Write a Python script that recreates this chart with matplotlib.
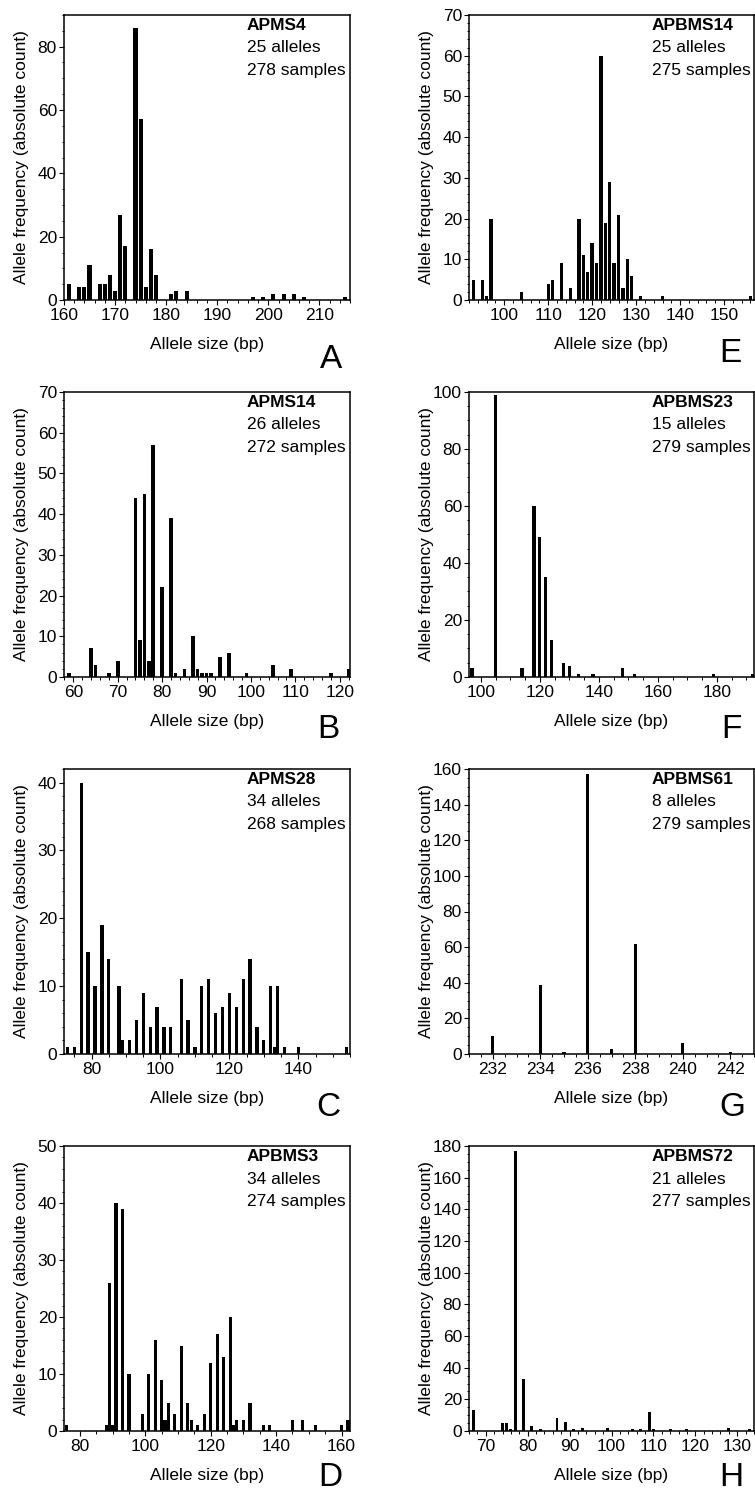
import matplotlib
matplotlib.use('Agg')
import matplotlib.pyplot as plt
from matplotlib.ticker import MultipleLocator

plt.rcParams['font.family'] = ['Liberation Sans', 'DejaVu Sans']

# ---------------- data ----------------
# A – APMS4
a_sizes = [161, 163, 164, 165, 167, 168, 169, 170, 171, 172, 174, 175, 176, 177, 178,
           181, 182, 184, 197, 199, 201, 203, 205, 207, 215]
a_counts = [5, 4, 4, 11, 5, 5, 8, 3, 27, 17, 86, 57, 4, 16, 8, 2, 3, 3, 1, 1, 2, 2, 2, 1, 1]

# B – APMS14
b_sizes = [59, 64, 65, 68, 70, 74, 75, 76, 77, 78, 80, 82, 83, 85, 87, 88, 89, 90, 91,
           93, 95, 99, 105, 109, 118, 122]
b_counts = [1, 7, 3, 1, 4, 44, 9, 45, 4, 57, 22, 39, 1, 2, 10, 2, 1, 1, 1, 5, 6, 1, 3, 2, 1, 2]

# C – APMS28
c_sizes = [73, 75, 77, 79, 81, 83, 85, 88, 89, 91, 93, 95, 97, 99, 101, 103, 106, 108,
           110, 112, 114, 116, 118, 120, 122, 124, 126, 128, 130, 132, 133, 134, 136, 140, 154]
c_counts = [1, 1, 40, 15, 10, 19, 14, 10, 2, 2, 5, 9, 4, 7, 4, 4, 11, 5, 1, 10, 11, 6, 7,
            9, 7, 11, 14, 4, 2, 10, 1, 10, 1, 1, 1]

# D – APBMS3
d_sizes = [76, 88, 89, 90, 91, 93, 95, 99, 101, 103, 105, 106, 107, 109, 111, 113, 114,
           116, 118, 120, 122, 124, 126, 127, 128, 130, 132, 136, 138, 145, 148, 152, 160, 162]
d_counts = [1, 1, 26, 1, 40, 39, 10, 3, 10, 16, 9, 2, 5, 3, 15, 5, 2, 1, 3, 12, 17, 13,
            20, 1, 2, 2, 5, 1, 1, 2, 2, 1, 1, 2]

# E – APBMS14
e_sizes = [93, 95, 96, 97, 104, 110, 111, 113, 115, 117, 118, 119, 120, 121, 122, 123,
           124, 125, 126, 127, 128, 129, 131, 136, 156]
e_counts = [5, 5, 1, 20, 2, 4, 5, 9, 3, 20, 11, 7, 14, 9, 60, 19, 29, 9, 21, 3, 10, 6, 1, 1, 1]

# F – APBMS23
f_sizes = [97, 105, 114, 118, 120, 122, 124, 128, 130, 133, 138, 148, 152, 179, 192]
f_counts = [3, 99, 3, 60, 49, 35, 13, 5, 4, 1, 1, 3, 1, 1, 1]

# G – APBMS61
g_sizes = [232, 234, 235, 236, 237, 238, 240, 242]
g_counts = [10, 39, 1, 157, 3, 62, 6, 1]

# H – APBMS72
h_sizes = [67, 74, 75, 76, 77, 79, 81, 83, 87, 89, 91, 93, 99, 105, 107, 109, 110, 114,
           118, 128, 133]
h_counts = [13, 5, 5, 1, 177, 33, 3, 1, 8, 6, 1, 2, 2, 1, 1, 12, 1, 1, 1, 2, 1]

letters = ['A', 'B', 'C', 'D', 'E', 'F', 'G', 'H']
markers = ['APMS4', 'APMS14', 'APMS28', 'APBMS3', 'APBMS14', 'APBMS23', 'APBMS61', 'APBMS72']
n_alleles = [25, 26, 34, 34, 25, 15, 8, 21]
n_samples = [278, 272, 268, 274, 275, 279, 279, 277]
sizes = [a_sizes, b_sizes, c_sizes, d_sizes, e_sizes, f_sizes, g_sizes, h_sizes]
counts = [a_counts, b_counts, c_counts, d_counts, e_counts, f_counts, g_counts, h_counts]

# ---------------- layout / style ----------------
W, H = 755, 1493
fig = plt.figure(figsize=(W / 100, H / 100), dpi=100)

col_left = [64, 469]
col_width = [286, 285]
row_top = [15, 392, 769, 1146]
ax_h = 285

xlims = [(160, 216), (57.9, 122.3), (72, 155), (75.1, 162.6),
         (92.0, 156.8), (96.0, 192.6), (231, 243), (66, 134)]
ylims = [(0, 90), (0, 70), (0, 42), (0, 50), (0, 70), (0, 100), (0, 160), (0, 180)]
x_major = [10, 10, 20, 20, 10, 20, 2, 10]
x_minor = [2, 2, 5, 5, 2, 5, 0.5, 2]
y_major = [20, 10, 10, 10, 10, 20, 20, 20]
y_minor = [5, 2, 2, 2, 2, 5, 5, 5]
bar_w = [0.8, 0.8, 0.95, 0.95, 0.75, 1.1, 0.14, 0.7]
letter_dy = [-68, -61, -62, -55, -62, -61, -62, -55]
letter_dx = [-8, -10, -10, -8, -12, -12, -9, -11]

px = 0.72  # points per pixel at 100 dpi
fs = 12.5

for i in range(8):
    col, row = divmod(i, 4)
    left = col_left[col]
    w = col_width[col]
    top = row_top[row]
    ax = fig.add_axes([left / W, 1 - (top + ax_h) / H, w / W, ax_h / H])
    ax.bar(sizes[i], counts[i], width=bar_w[i], color='black', linewidth=0, align='center')
    ax.set_xlim(*xlims[i])
    ax.set_ylim(*ylims[i])
    ax.xaxis.set_major_locator(MultipleLocator(x_major[i]))
    ax.xaxis.set_minor_locator(MultipleLocator(x_minor[i]))
    ax.yaxis.set_major_locator(MultipleLocator(y_major[i]))
    ax.yaxis.set_minor_locator(MultipleLocator(y_minor[i]))
    ax.tick_params(which='major', direction='out', length=3.6, width=0.8,
                   labelsize=fs, colors='black')
    ax.tick_params(which='minor', direction='out', length=1.8, width=0.7)
    ax.tick_params(axis='y', which='major', pad=1.5)
    ax.tick_params(axis='x', which='major', pad=2.5)
    for sp in ax.spines.values():
        sp.set_linewidth(1.1)

    ax.set_xlabel('Allele size (bp)', fontsize=fs)
    ax.xaxis.label.set_va('baseline')
    ax.xaxis.set_label_coords(0.5, -49 / ax_h)
    ax.set_ylabel('Allele frequency (absolute count)', fontsize=fs)
    ax.yaxis.label.set_va('center')
    ax.yaxis.set_label_coords(-42 / w, 0.5)

    ax.annotate(markers[i], xy=(0, 1), xycoords='axes fraction',
                xytext=(183 * px, -15 * px), textcoords='offset points',
                ha='left', va='baseline', fontsize=fs, fontweight='bold')
    ax.annotate(f'{n_alleles[i]} alleles', xy=(0, 1), xycoords='axes fraction',
                xytext=(183 * px, -37.5 * px), textcoords='offset points',
                ha='left', va='baseline', fontsize=fs)
    ax.annotate(f'{n_samples[i]} samples', xy=(0, 1), xycoords='axes fraction',
                xytext=(183 * px, -60 * px), textcoords='offset points',
                ha='left', va='baseline', fontsize=fs)
    ax.annotate(letters[i], xy=(1, 0), xycoords='axes fraction',
                xytext=(letter_dx[i] * px, letter_dy[i] * px), textcoords='offset points',
                ha='right', va='baseline', fontsize=24, annotation_clip=False)

fig.savefig('out.png', dpi=100)
